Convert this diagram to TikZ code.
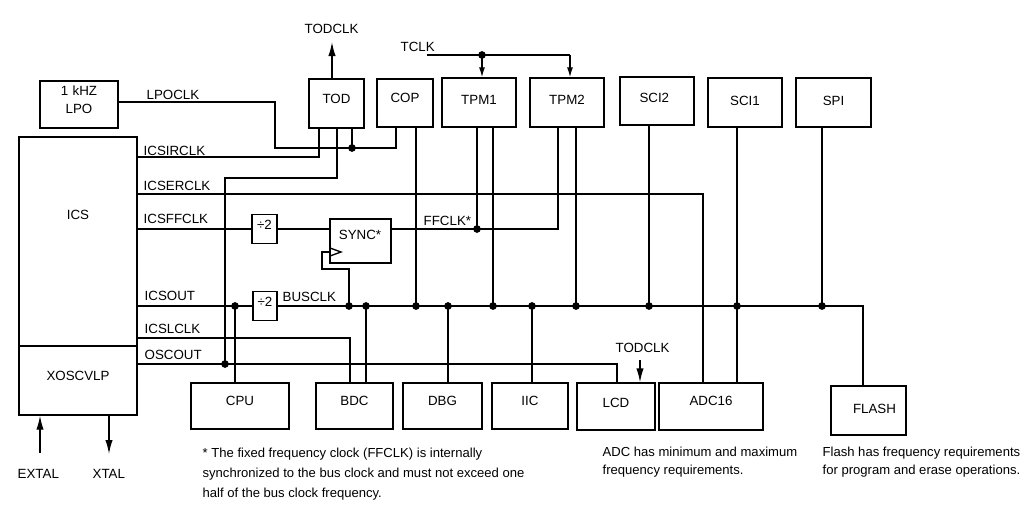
\documentclass[tikz,border=0pt]{standalone}
\usepackage{fontspec}
\setmainfont{Liberation Sans}
\usetikzlibrary{arrows.meta,fit}
\begin{document}
\begin{tikzpicture}[x=0.75pt,y=-0.75pt, line width=1pt,
  every node/.style={font=\fontsize{10}{12}\selectfont},
  box/.style={draw, inner sep=0pt, line width=1pt},
  lbl/.style={anchor=base west, inner sep=0pt},
  note/.style={anchor=base west, inner sep=0pt, font=\fontsize{9.8}{12}\selectfont},
  arr/.style={-{Latex[length=10.5pt,width=5.5pt]}},
  sarr/.style={-{Latex[length=7.5pt,width=4.5pt]}}]
\useasboundingbox (0,0) rectangle (1033,507);

% ---------- boxes ----------
\node[box, fit={(40,81)(118,128)}, align=center, font=\fontsize{10}{13.5}\selectfont] (lpo) {1 kHZ\\LPO};
\node[box, fit={(19,137)(137,346)}] (ics) {};
\node (icst) at (78,214.5) {ICS};
\node[box, fit={(19,346)(137,415)}] (xosc) {};
\node (xosct) at (78,376) {XOSCVLP};

\node[box, fit={(309,79)(364,128)}] (tod) {TOD};
\node[box, fit={(377,79)(433,127)}] (cop) {COP};
\node[box, fit={(442,78)(516,127)}, label={[yshift=2pt]center:TPM1}] (tpm1) {};
\node[box, fit={(530,78)(604,127)}, label={[yshift=2pt]center:TPM2}] (tpm2) {};
\node[box, fit={(620,77)(694,125)}, label={[yshift=2pt,xshift=-2pt]center:SCI2}] (sci2) {};
\node[box, fit={(708,78)(782,127)}, label={[yshift=1.5pt]center:SCI1}] (sci1) {};
\node[box, fit={(796,78)(871,127)}, label={[yshift=1.5pt]center:SPI}] (spi) {};

\node[box, fit={(252,214.5)(277,243.5)}] (div1) {÷2};
\node[box, fit={(330,219)(391,263)}] (sync) {};
\node (synct) at (360,235) {SYNC*};
\node[box, fit={(253,291.5)(277,320.5)}] (div2) {÷2};

\node[box, fit={(191,383)(289,429)}] (cpu) {CPU};
\node[box, fit={(316,383)(393,429)}] (bdc) {BDC};
\node[box, fit={(403,383)(482,429)}] (dbg) {DBG};
\node[box, fit={(492,383)(568,429)}] (iic) {IIC};
\node[box, fit={(577,383)(655,430)}, label={[yshift=3pt]center:LCD}] (lcd) {};
\node[box, fit={(659,383)(763,430)}, label={[yshift=4pt]center:ADC16}] (adc) {};
\node[box, fit={(831,386)(906,435)}, label={[yshift=1.5pt,xshift=4.5pt]center:FLASH}] (flash) {};

% ---------- coordinates ----------
\coordinate (jL1) at (275,102);
\coordinate (jL2) at (275,148);
\coordinate (dL) at (352,148);
\coordinate (jL3) at (396,148);
\coordinate (jI) at (319,157);
\coordinate (jE) at (703,194);
\coordinate (dF) at (477,229);
\coordinate (jF) at (558,229);
\coordinate (jS1) at (322,252);
\coordinate (jS2) at (322,269);
\coordinate (jS3) at (349,269);
\coordinate (dS) at (349,306);
\coordinate (dCPU) at (235,306);
\coordinate (jB) at (863,306);
\coordinate (dBDC) at (366,306);
\coordinate (dCOP) at (416,306);
\coordinate (dDBG) at (448,306);
\coordinate (dTPM1) at (493,306);
\coordinate (dIIC) at (532,306);
\coordinate (dTPM2) at (576,306);
\coordinate (dSCI2) at (649,306);
\coordinate (dSCI1) at (737,306);
\coordinate (dSPI) at (822,306);
\coordinate (jLC) at (350,338);
\coordinate (dO) at (225,364);
\coordinate (jO) at (617,364);
\coordinate (jT1) at (225,178);
\coordinate (jT2) at (337,178);
\coordinate (todclk) at (332,42);
\coordinate (tclk) at (427,55);
\coordinate (dT) at (482,55);
\coordinate (jT) at (570,55);
\coordinate (todclkb) at (640,360);
\coordinate (extal) at (40,453);
\coordinate (xtal) at (109,454);

% ---------- wires ----------
% LPOCLK
\draw (lpo.east |- jL1) -- (jL1) -- (jL2) -- (jL3) -- (jL3 |- cop.south);
\draw (dL) -- (dL |- tod.south);
% ICSIRCLK
\draw (ics.east |- jI) -- (jI) -- (jI |- tod.south);
% ICSERCLK
\draw (ics.east |- jE) -- (jE) -- (jE |- adc.north);
% ICSFFCLK / FFCLK
\draw (ics.east |- div1.west) -- (div1.west);
\draw (div1.east) -- (sync.west |- div1.east);
\draw (sync.east |- jF) -- (jF) -- (jF |- tpm2.south);
\draw (dF) -- (dF |- tpm1.south);
% SYNC clock input
\draw (330,248) -- (341,252) -- (330,256);
\draw (sync.west |- jS1) -- (jS1) -- (jS2) -- (jS3) -- (dS);
% ICSOUT / BUSCLK
\draw (ics.east |- div2.west) -- (div2.west);
\draw (dCPU) -- (dCPU |- cpu.north);
\draw (div2.east) -- (jB) -- (jB |- flash.north);
\draw (dBDC) -- (dBDC |- bdc.north);
\draw (dCOP) -- (dCOP |- cop.south);
\draw (dDBG) -- (dDBG |- dbg.north);
\draw (dTPM1) -- (dTPM1 |- tpm1.south);
\draw (dIIC) -- (dIIC |- iic.north);
\draw (dTPM2) -- (dTPM2 |- tpm2.south);
\draw (dSCI2) -- (dSCI2 |- sci2.south);
\draw (sci1.south -| dSCI1) -- (dSCI1 |- adc.north);
\draw (dSPI) -- (dSPI |- spi.south);
% ICSLCLK
\draw (ics.east |- jLC) -- (jLC) -- (jLC |- bdc.north);
% OSCOUT
\draw (xosc.east |- jO) -- (jO) -- (jO |- lcd.north);
\draw (dO) -- (jT1) -- (jT2) -- (jT2 |- tod.south);
% TODCLK, TCLK
\draw[arr] (tod.north -| todclk) -- (todclk);
\draw (tclk) -- (jT);
\draw[sarr] (dT) -- (dT |- tpm1.north);
\draw[sarr] (jT) -- (jT |- tpm2.north);
\draw[arr] (todclkb) -- (todclkb |- lcd.north);
% EXTAL / XTAL
\draw[arr] (extal) -- (extal |- xosc.south);
\draw[arr] (xosc.south -| xtal) -- (xtal);

% dots
\foreach \p in {dL,dF,dS,dCPU,dBDC,dCOP,dDBG,dTPM1,dIIC,dTPM2,dSCI2,dSCI1,dSPI,dO,dT}
  \fill (\p) circle (2.9pt);

% ---------- labels ----------
\node[lbl] (lLPO) at (146,99) {LPOCLK};
\node[lbl] (lIR) at (143,155) {ICSIRCLK};
\node[lbl] (lER) at (143,190) {ICSERCLK};
\node[lbl] (lFF) at (143,223) {ICSFFCLK};
\node[lbl] (lOUT) at (144,300) {ICSOUT};
\node[lbl] (lLC) at (144,333) {ICSLCLK};
\node[lbl] (lOSC) at (144,359) {OSCOUT};
\node[lbl] (lBUS) at (282,301) {BUSCLK};
\node[lbl] (lFFC) at (423,225) {FFCLK*};
\node[lbl] (lTCLK) at (400,51) {TCLK};
\node[lbl] (lTOD1) at (304,33) {TODCLK};
\node[lbl] (lTOD2) at (615,352) {TODCLK};
\node[lbl] (lEX) at (17,478) {EXTAL};
\node[lbl] (lXT) at (92,478) {XTAL};

\node[note] (n1) at (202,457) {* The fixed frequency clock (FFCLK) is internally};
\node[note] (n2) at (202,477.5) {synchronized to the bus clock and must not exceed one};
\node[note] (n3) at (202,497) {half of the bus clock frequency.};
\node[note] (a1) at (602,456) {ADC has minimum and maximum};
\node[note] (a2) at (602,474) {frequency requirements.};
\node[note] (f1) at (822,456) {Flash has frequency requirements};
\node[note] (f2) at (822,474) {for program and erase operations.};
\end{tikzpicture}
\end{document}
